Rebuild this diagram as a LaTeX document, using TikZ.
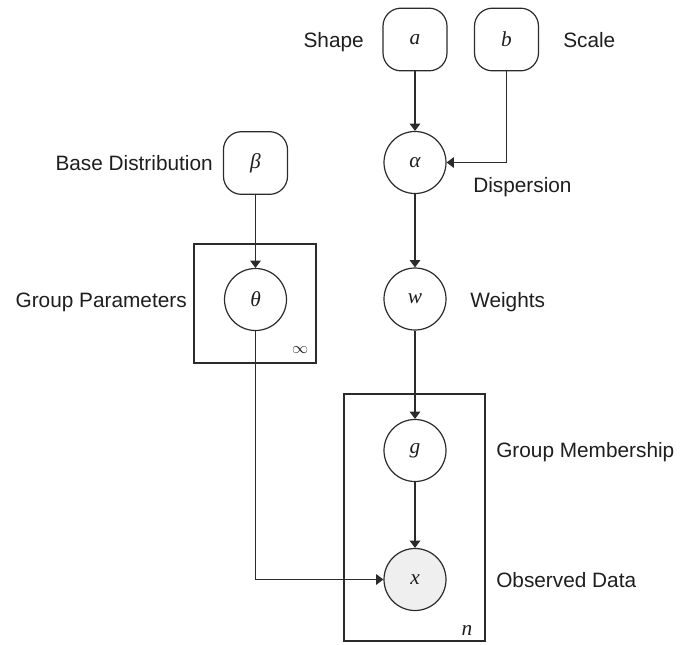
\documentclass[tikz,border=0pt]{standalone}
\usepackage{fontspec}
\setmainfont{Liberation Sans}
\newfontfamily\varfont{Liberation Serif}
\usetikzlibrary{arrows.meta}
\definecolor{ink}{HTML}{2B2B2B}
\definecolor{txt}{HTML}{1E1E1E}
\definecolor{obsfill}{HTML}{EFEFEF}
\begin{document}
\begin{tikzpicture}[x=0.75pt,y=-0.75pt,
  var/.style={circle,draw=ink,line width=0.9pt,minimum size=46.5pt,inner sep=0pt,
    text=txt,font=\varfont\itshape\fontsize{16}{18}\selectfont},
  obs/.style={var,fill=obsfill},
  hyper/.style={rectangle,draw=ink,rounded corners=13.5pt,line width=0.9pt,
    minimum width=48pt,minimum height=47pt,inner sep=0pt,
    text=txt,font=\varfont\itshape\fontsize{16}{18}\selectfont},
  plate/.style={draw=ink,line width=0.9pt},
  lbl/.style={font=\fontsize{15.6}{18}\selectfont,text=txt,inner sep=0pt},
  platelbl/.style={text=txt,inner sep=0pt,font=\varfont\itshape\fontsize{16}{18}\selectfont},
  edge/.style={draw=ink,line width=0.9pt,-{Triangle[length=5.5pt,width=8pt]}}]
\useasboundingbox (0,0) rectangle (689,644);

% plates
\draw[plate] (194,244) rectangle (316,363);
\draw[plate] (344,394) rectangle (485,641);
\node[font=\fontsize{13}{15}\selectfont,text=txt,inner sep=0pt] (inf) at (300,350) {$\infty$};
\node[platelbl,anchor=base] (nlab) at (467,635) {n};

% nodes
\node[hyper] (a) at (415,39.5) {a};
\node[hyper] (b) at (506.5,39.5) {b};
\node[var] (alpha) at (415,162.5) {α};
\node[hyper] (beta) at (255.5,163) {β};
\node[var] (theta) at (255.5,299.5) {θ};
\node[var] (w) at (415,299) {w};
\node[var] (g) at (415,450.5) {g};
\node[obs] (x) at (415,579.5) {x};

% labels
\node[lbl,anchor=base east] (lshape) at (364,47) {Shape};
\node[lbl,anchor=base west] (lscale) at (563,47) {Scale};
\node[lbl,anchor=base east] (lbase) at (213,170) {Base Distribution};
\node[lbl,anchor=base west] (ldisp) at (473,192) {Dispersion};
\node[lbl,anchor=base east] (lgp) at (187,307) {Group Parameters};
\node[lbl,anchor=base west] (lw) at (470,307) {Weights};
\node[lbl,anchor=base west] (lgm) at (496,457) {Group Membership};
\node[lbl,anchor=base west] (lod) at (496,587) {Observed Data};

% edges
\draw[edge] (a) -- (alpha);
\draw[edge] (b.south) |- (alpha.east);
\draw[edge] (beta) -- (theta);
\draw[edge] (alpha) -- (w);
\draw[edge] (w) -- (g);
\draw[edge] (g) -- (x);
\draw[edge] (theta.south) |- (x.west);
\end{tikzpicture}
\end{document}
